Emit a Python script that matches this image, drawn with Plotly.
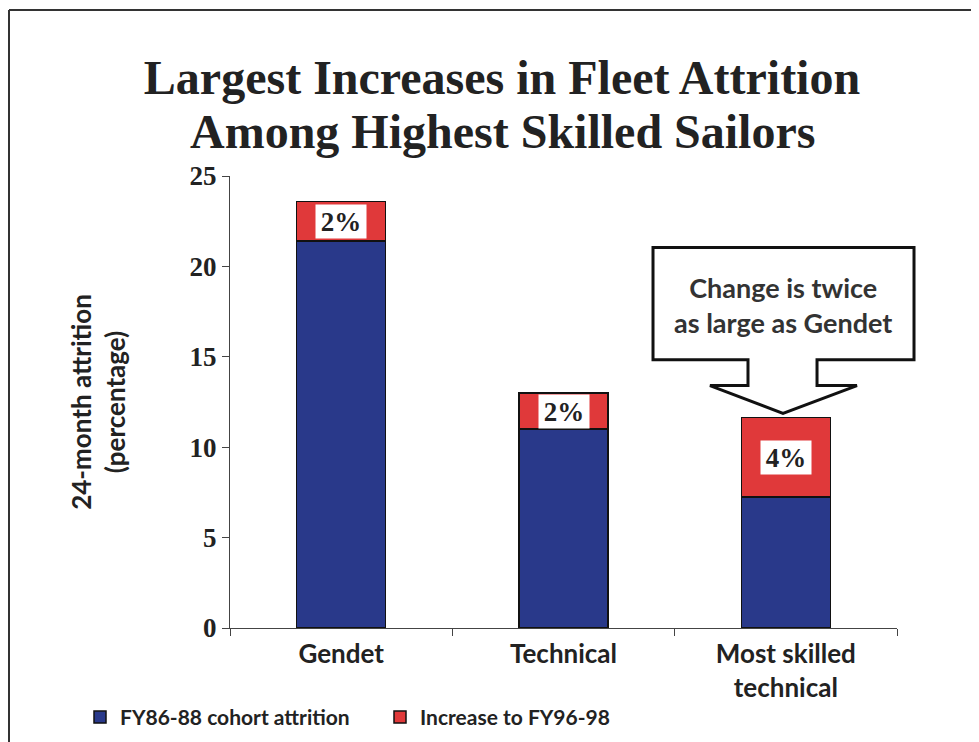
import plotly.graph_objects as go

categories = ["Gendet", "Technical", "Most skilled<br>technical"]
base_attrition = [21.4, 11.0, 7.25]
increase = [2.2, 2.0, 4.4]
pct_labels = ["2%", "2%", "4%"]
y_ticks = [0, 5, 10, 15, 20, 25]
series_names = ["FY86-88 cohort attrition", "Increase to FY96-98"]
title_line1 = "Largest Increases in Fleet Attrition"
title_line2 = "Among Highest Skilled Sailors"
callout_text = "Change is twice<br>as large as Gendet"

BLUE = "#29398A"
RED = "#E0393A"
SANS = "Lato"
SERIF = "Liberation Serif"
INK = "#222222"

# page body adds an 8px offset; plot area target (viewport px): x 230..897, y 176..631
OFF = 8
PX_L, PX_R, PX_T, PX_B = 230, 897, 176, 631
W, H = 979, 742


def px(xv):
    return (xv - PX_L) / (PX_R - PX_L)


def py(yv):
    return (PX_B - yv) / (PX_B - PX_T)


fig = go.Figure()
fig.add_trace(go.Bar(x=categories, y=base_attrition, name=series_names[0],
                     marker=dict(color=BLUE, line=dict(color="#111111", width=1.5)),
                     width=0.4))
fig.add_trace(go.Bar(x=categories, y=increase, name=series_names[1],
                     marker=dict(color=RED, line=dict(color="#111111", width=1.5)),
                     width=0.4))

annotations = []
for c, b, inc, lab in zip(categories, base_attrition, increase, pct_labels):
    annotations.append(dict(x=c, y=b + inc / 2, xref="x", yref="y", text=lab,
                            showarrow=False, bgcolor="white", width=50, height=33,
                            borderpad=0,
                            font=dict(family=SERIF, size=27, color=INK, weight="bold")))

# second title line
annotations.append(dict(x=px(502), y=py(131), xref="paper", yref="paper",
                        text=title_line2, showarrow=False, xanchor="center", yanchor="middle",
                        font=dict(family=SERIF, size=48, color=INK, weight="bold")))

# callout text
annotations.append(dict(x=px(783), y=py(306), xref="paper", yref="paper", text=callout_text,
                        showarrow=False, xanchor="center", yanchor="middle",
                        font=dict(family=SANS, size=27, color="#333333", weight="bold")))

pts = [(653, 248), (914, 248), (914, 361), (817, 361), (817, 387), (857, 387),
       (783, 415), (710, 387), (748, 387), (748, 361), (653, 361)]
callout_path = "M " + " L ".join(f"{px(a):.4f},{py(b):.4f}" for a, b in pts) + " Z"

shapes = [
    dict(type="path", path=callout_path, xref="paper", yref="paper",
         fillcolor="white", line=dict(color="#111111", width=3), layer="above"),
    # page frame (top and left edges)
    dict(type="line", xref="paper", yref="paper", x0=px(9), x1=px(1000),
         y0=py(9), y1=py(9), line=dict(color="#333333", width=2)),
    dict(type="line", xref="paper", yref="paper", x0=px(9), x1=px(9),
         y0=py(9), y1=py(760), line=dict(color="#333333", width=2)),
]

fig.update_layout(
    barmode="stack",
    width=W, height=H,
    margin=dict(l=PX_L - OFF, r=W - (PX_R - OFF), t=PX_T - OFF, b=H - (PX_B - OFF)),
    paper_bgcolor="white", plot_bgcolor="white",
    title=dict(text=title_line1, x=(502 - OFF) / W, xanchor="center", xref="container",
               y=1 - (77 - OFF) / H, yref="container", yanchor="middle",
               font=dict(family=SERIF, size=48, color=INK, weight="bold")),
    showlegend=True,
    legend=dict(orientation="h", x=px(80), xanchor="left",
                y=py(721), yanchor="middle",
                font=dict(family=SANS, size=21, color=INK, weight="bold"),
                entrywidth=255, traceorder="normal", bgcolor="rgba(0,0,0,0)"),
    annotations=annotations,
    shapes=shapes,
    bargap=0.6,
)

fig.update_xaxes(showline=True, linecolor="#444444", linewidth=1.2, ticks="outside",
                 tickson="boundaries", ticklen=7, tickcolor="#444444", showgrid=False,
                 range=[-0.5, 2.5], ticklabelstandoff=3,
                 tickfont=dict(family=SANS, size=26, color=INK, weight="bold"))
fig.update_yaxes(range=[0, 25], tickvals=y_ticks, showline=True, linecolor="#444444",
                 linewidth=1.2, ticks="outside", ticklen=7, tickcolor="#444444",
                 showgrid=False, zeroline=False,
                 tickfont=dict(family=SERIF, size=27, color=INK, weight="bold"),
                 title=dict(text="24-month attrition<br>(percentage)", standoff=56,
                            font=dict(family=SANS, size=26, color=INK, weight="bold")))

fig.write_html("out.html")
